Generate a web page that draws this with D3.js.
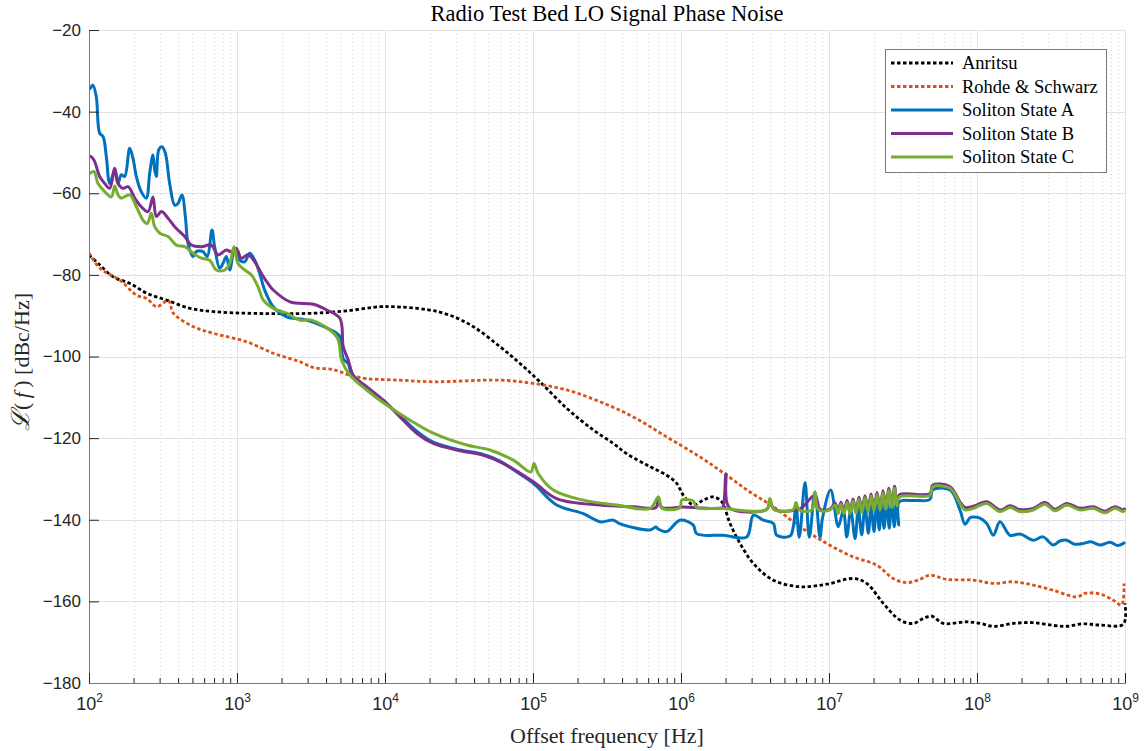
<!DOCTYPE html>
<html><head><meta charset="utf-8">
<script src="https://cdn.jsdelivr.net/npm/d3@7"></script>
<style>body{margin:0;background:#fff}svg{display:block}</style>
</head><body>
<svg id="chart" width="1147" height="751"></svg>
<script>
const titleText = "Radio Test Bed LO Signal Phase Noise";
const xLabelText = "Offset frequency [Hz]";
const yTicks = [-180, -160, -140, -120, -100, -80, -60, -40, -20];
const xTickExponents = [2, 3, 4, 5, 6, 7, 8, 9];
const seriesNames = ["Anritsu", "Rohde & Schwarz", "Soliton State A", "Soliton State B", "Soliton State C"];
const seriesColors = ["#000000", "#D95319", "#0072BD", "#7E2F8E", "#77AC30"];
const seriesDashed = [true, true, false, false, false];

// points: [log10(offset frequency / Hz), phase noise dBc/Hz]
const anritsu = [[2.000,-75.1],[2.074,-77.6],[2.164,-80.5],[2.277,-82.1],[2.390,-84.5],[2.525,-86.2],[2.682,-88.2],[2.840,-89.0],[3.066,-89.4],[3.516,-89.4],[3.741,-88.8],[3.966,-87.8],[4.056,-87.8],[4.282,-88.5],[4.439,-89.9],[4.597,-92.7],[4.777,-97.6],[4.912,-101.7],[5.047,-106.2],[5.228,-112.7],[5.407,-118.0],[5.543,-121.3],[5.633,-123.8],[5.791,-127.0],[5.903,-129.1],[5.971,-131.1],[6.016,-134.0],[6.083,-136.4],[6.151,-135.2],[6.218,-134.4],[6.275,-135.6],[6.331,-140.9],[6.399,-145.8],[6.489,-150.7],[6.624,-154.8],[6.804,-156.4],[6.984,-155.8],[7.164,-154.4],[7.255,-155.6],[7.367,-160.5],[7.480,-164.6],[7.570,-165.4],[7.637,-164.2],[7.694,-163.6],[7.772,-165.4],[7.930,-165.0],[8.020,-165.4],[8.110,-166.1],[8.245,-165.4],[8.380,-165.2],[8.516,-165.9],[8.606,-166.1],[8.718,-165.5],[8.831,-165.8],[8.989,-165.6],[9.000,-160.5]];

const rohdeSchwarz = [[2.000,-74.6],[2.074,-78.4],[2.209,-81.3],[2.322,-85.0],[2.390,-85.8],[2.457,-87.8],[2.536,-86.3],[2.570,-89.4],[2.705,-92.7],[2.840,-94.3],[3.066,-96.4],[3.245,-99.2],[3.358,-100.5],[3.426,-101.3],[3.516,-102.7],[3.651,-103.2],[3.764,-104.6],[3.876,-105.4],[4.101,-105.8],[4.326,-106.2],[4.777,-105.8],[5.002,-106.6],[5.228,-108.2],[5.453,-111.1],[5.678,-114.8],[5.903,-119.7],[6.128,-124.6],[6.309,-129.1],[6.466,-133.2],[6.624,-136.8],[6.804,-141.7],[6.984,-145.8],[7.164,-149.1],[7.322,-151.1],[7.434,-154.4],[7.525,-155.4],[7.601,-154.8],[7.682,-153.6],[7.795,-154.6],[7.975,-154.8],[8.110,-155.6],[8.245,-155.2],[8.380,-156.0],[8.516,-157.3],[8.674,-158.9],[8.736,-158.0],[8.831,-158.2],[8.921,-159.7],[8.977,-160.9],[8.993,-155.6]];

const solitonA = [[2.000,-34.5],[2.007,-34.3],[2.026,-33.5],[2.049,-36.3],[2.072,-45.3],[2.095,-46.1],[2.117,-51.0],[2.140,-57.6],[2.174,-54.3],[2.196,-57.6],[2.218,-55.5],[2.241,-55.9],[2.275,-49.0],[2.297,-51.4],[2.320,-55.9],[2.353,-59.6],[2.387,-61.2],[2.410,-55.1],[2.432,-50.6],[2.444,-54.3],[2.455,-55.9],[2.471,-49.4],[2.493,-48.6],[2.516,-50.2],[2.545,-57.6],[2.579,-62.9],[2.601,-62.5],[2.628,-60.4],[2.651,-65.7],[2.669,-72.3],[2.703,-75.5],[2.725,-74.3],[2.770,-74.3],[2.799,-75.5],[2.831,-69.0],[2.849,-73.1],[2.883,-78.4],[2.905,-77.2],[2.928,-75.5],[2.951,-78.8],[2.984,-73.5],[3.018,-76.4],[3.052,-76.8],[3.086,-74.7],[3.120,-76.4],[3.153,-79.6],[3.187,-83.7],[3.245,-87.8],[3.336,-90.3],[3.471,-91.1],[3.674,-94.3],[3.696,-95.2],[3.718,-100.5],[3.752,-101.8],[3.777,-104.8],[3.876,-107.8],[3.989,-110.9],[4.101,-114.5],[4.214,-118.3],[4.326,-121.0],[4.484,-122.7],[4.664,-124.0],[4.777,-125.6],[4.890,-128.3],[5.002,-131.1],[5.160,-136.4],[5.340,-138.5],[5.453,-140.5],[5.543,-140.1],[5.588,-141.0],[5.791,-142.5],[5.831,-141.8],[5.847,-142.3],[5.903,-142.9],[5.993,-140.1],[6.083,-141.3],[6.106,-143.4],[6.286,-143.8],[6.444,-144.2],[6.489,-138.9],[6.557,-140.1],[6.624,-140.9],[6.647,-143.8],[6.736,-144.0],[6.759,-141.7],[6.777,-136.0],[6.799,-144.3],[6.838,-130.9],[6.867,-144.3],[6.905,-133.2],[6.939,-144.3],[6.957,-139.4],[7.011,-132.7],[7.063,-141.7],[7.097,-137.6],[7.120,-144.2],[7.147,-137.6],[7.176,-144.6],[7.198,-137.2],[7.221,-143.7],[7.243,-136.8],[7.266,-143.3],[7.284,-136.4],[7.304,-142.9],[7.322,-136.0],[7.340,-142.5],[7.356,-135.6],[7.372,-142.1],[7.390,-135.2],[7.407,-142.1],[7.424,-134.8],[7.441,-141.7],[7.457,-134.8],[7.471,-141.3],[7.475,-135.6],[7.580,-135.3],[7.682,-135.0],[7.701,-132.7],[7.818,-132.7],[7.885,-137.6],[7.919,-141.1],[7.953,-139.5],[7.975,-139.3],[8.020,-139.6],[8.066,-140.9],[8.110,-143.8],[8.155,-140.5],[8.223,-143.8],[8.291,-143.5],[8.380,-145.0],[8.446,-144.2],[8.516,-146.2],[8.560,-145.2],[8.606,-145.0],[8.660,-146.0],[8.718,-145.8],[8.770,-145.4],[8.831,-146.2],[8.899,-145.5],[8.950,-146.3],[8.989,-145.8],[9.000,-145.5]];

const solitonB = [[2.000,-51.0],[2.007,-50.9],[2.034,-51.9],[2.072,-55.9],[2.106,-57.6],[2.140,-58.8],[2.174,-53.9],[2.196,-57.6],[2.230,-58.8],[2.264,-58.4],[2.309,-61.2],[2.353,-63.3],[2.399,-64.5],[2.432,-60.9],[2.455,-65.7],[2.489,-64.5],[2.534,-66.1],[2.579,-68.2],[2.647,-70.6],[2.691,-72.7],[2.759,-73.1],[2.826,-72.7],[2.872,-75.1],[2.928,-73.9],[2.961,-74.3],[2.995,-73.5],[3.029,-75.9],[3.074,-75.1],[3.120,-76.8],[3.164,-79.6],[3.209,-82.1],[3.245,-83.7],[3.358,-86.6],[3.516,-87.2],[3.606,-88.6],[3.696,-90.7],[3.718,-97.6],[3.752,-100.9],[3.786,-104.6],[3.876,-107.4],[3.989,-110.7],[4.101,-114.8],[4.214,-118.8],[4.326,-121.3],[4.484,-122.9],[4.664,-124.2],[4.777,-125.8],[5.002,-130.7],[5.160,-134.8],[5.453,-136.4],[5.678,-136.8],[5.831,-137.0],[5.847,-135.0],[5.872,-137.0],[6.005,-136.9],[6.083,-137.0],[6.264,-137.2],[6.282,-137.0],[6.304,-128.7],[6.326,-137.0],[6.580,-137.4],[6.601,-135.2],[6.628,-137.4],[6.799,-137.4],[6.905,-134.0],[6.939,-137.4],[7.007,-137.4],[7.041,-135.9],[7.061,-138.0],[7.081,-135.7],[7.101,-138.0],[7.122,-135.3],[7.142,-138.0],[7.162,-134.9],[7.182,-137.9],[7.203,-134.5],[7.223,-137.7],[7.243,-134.1],[7.264,-137.5],[7.284,-133.7],[7.304,-137.3],[7.324,-133.3],[7.345,-137.1],[7.365,-132.9],[7.385,-136.9],[7.405,-132.3],[7.426,-136.5],[7.443,-131.8],[7.459,-136.1],[7.475,-133.9],[7.682,-133.6],[7.701,-131.5],[7.818,-131.9],[7.885,-135.6],[7.919,-137.0],[7.975,-136.7],[8.066,-135.6],[8.155,-137.6],[8.223,-136.6],[8.291,-137.5],[8.380,-137.2],[8.459,-135.8],[8.527,-137.4],[8.606,-136.0],[8.696,-137.2],[8.786,-136.8],[8.865,-137.9],[8.932,-136.8],[8.989,-137.6],[9.000,-137.1]];

const solitonC = [[2.000,-55.3],[2.007,-55.1],[2.034,-54.7],[2.061,-57.6],[2.106,-59.6],[2.151,-60.9],[2.174,-58.2],[2.196,-60.4],[2.218,-61.2],[2.275,-60.4],[2.320,-63.3],[2.365,-66.6],[2.394,-67.4],[2.421,-64.9],[2.444,-68.2],[2.478,-69.8],[2.534,-70.6],[2.590,-72.7],[2.647,-73.1],[2.703,-74.7],[2.759,-75.9],[2.816,-76.4],[2.860,-78.8],[2.917,-78.8],[2.951,-77.2],[2.980,-73.1],[3.007,-77.2],[3.052,-78.8],[3.097,-80.0],[3.142,-82.9],[3.178,-86.2],[3.245,-88.2],[3.336,-89.4],[3.426,-91.1],[3.505,-91.1],[3.674,-95.2],[3.707,-100.9],[3.764,-104.6],[3.876,-108.2],[4.011,-111.9],[4.169,-115.6],[4.326,-118.8],[4.552,-121.7],[4.709,-122.9],[4.867,-125.4],[4.986,-128.3],[5.007,-126.2],[5.034,-128.6],[5.137,-132.7],[5.340,-135.2],[5.566,-136.4],[5.791,-137.2],[5.847,-134.4],[5.872,-137.2],[5.993,-137.0],[6.005,-135.2],[6.083,-135.4],[6.106,-137.0],[6.264,-137.2],[6.580,-137.5],[6.601,-134.8],[6.628,-137.5],[6.759,-137.5],[6.777,-135.8],[6.799,-137.6],[6.885,-137.6],[6.905,-133.2],[6.929,-137.6],[7.007,-137.6],[7.041,-136.4],[7.061,-138.5],[7.081,-136.2],[7.101,-138.5],[7.122,-135.8],[7.142,-138.5],[7.162,-135.4],[7.182,-138.4],[7.203,-135.0],[7.223,-138.2],[7.243,-134.6],[7.264,-138.0],[7.284,-134.2],[7.304,-137.8],[7.324,-133.8],[7.345,-137.6],[7.365,-133.4],[7.385,-137.4],[7.405,-132.8],[7.426,-137.0],[7.443,-132.3],[7.459,-136.6],[7.475,-134.4],[7.682,-134.0],[7.701,-131.9],[7.818,-132.3],[7.885,-136.0],[7.919,-137.6],[7.975,-137.2],[8.066,-136.0],[8.155,-138.0],[8.223,-137.0],[8.291,-138.0],[8.380,-137.6],[8.459,-136.2],[8.527,-137.8],[8.606,-136.4],[8.696,-137.6],[8.786,-137.2],[8.865,-138.3],[8.932,-137.2],[8.989,-138.0],[9.000,-137.5]];

const seriesData = [anritsu, rohdeSchwarz, solitonA, solitonB, solitonC];

const X0 = 89, X1 = 1125, Y0 = 30, Y1 = 683;
const svg = d3.select("#chart");
const x = d3.scaleLog().domain([1e2, 1e9]).range([X0, X1]);
const y = d3.scaleLinear().domain([-180, -20]).range([Y1, Y0]);
const serif = "'Liberation Serif','Times New Roman',Times,serif";
const sans = "'Liberation Sans',Arial,Helvetica,sans-serif";

const decades = xTickExponents.map(e => Math.pow(10, e));
const minor = [];
xTickExponents.slice(0, -1).forEach(e => { for (let k = 2; k <= 9; k++) minor.push(k * Math.pow(10, e)); });
const px = v => Math.round(v) + 0.5;

// grid
const grid = svg.append("g");
grid.selectAll("line.minor").data(minor).join("line").attr("class","minor")
  .attr("x1", d => px(x(d))).attr("x2", d => px(x(d))).attr("y1", Y0).attr("y2", Y1)
  .attr("stroke", "#cfcfcf").attr("stroke-width", 1).attr("stroke-dasharray", "1,3");
grid.selectAll("line.major").data(decades).join("line").attr("class","major")
  .attr("x1", d => px(x(d))).attr("x2", d => px(x(d))).attr("y1", Y0).attr("y2", Y1)
  .attr("stroke", "#e2e2e2").attr("stroke-width", 1);
grid.selectAll("line.hgrid").data(yTicks).join("line").attr("class","hgrid")
  .attr("x1", X0).attr("x2", X1).attr("y1", d => px(y(d))).attr("y2", d => px(y(d)))
  .attr("stroke", "#e2e2e2").attr("stroke-width", 1);

// series
svg.append("clipPath").attr("id","plotclip").append("rect")
  .attr("x", X0).attr("y", Y0 - 2).attr("width", X1 - X0 + 2).attr("height", Y1 - Y0 + 2);
const line = d3.line().x(d => x(Math.pow(10, d[0]))).y(d => y(d[1])).curve(d3.curveCatmullRom.alpha(0.5));
const lines = svg.append("g").attr("clip-path", "url(#plotclip)");
seriesData.forEach((data, i) => {
  lines.append("path").datum(data).attr("d", line)
    .attr("fill", "none").attr("stroke", seriesColors[i])
    .attr("stroke-width", seriesDashed[i] ? 2.8 : 3)
    .attr("stroke-linejoin", "round")
    .attr("stroke-dasharray", seriesDashed[i] ? "3.5,2.5" : null);
});

// axes
const gy = svg.append("g").attr("transform", `translate(${X0},0)`)
  .call(d3.axisLeft(y).tickValues(yTicks).tickSizeInner(-10).tickSizeOuter(0).tickPadding(8)
    .tickFormat(d => d < 0 ? "\u2212" + Math.abs(d) : String(d)));
gy.select(".domain").attr("stroke", "#7a7a7a");
gy.selectAll(".tick line").attr("stroke", "#262626");
gy.selectAll(".tick text").attr("font-family", sans).attr("font-size", 17).attr("fill", "#262626");

const gxm = svg.append("g").attr("transform", `translate(0,${Y1})`)
  .call(d3.axisBottom(x).tickValues(minor).tickSizeInner(-5).tickSizeOuter(0).tickFormat(""));
gxm.select(".domain").attr("stroke", "#7a7a7a");
gxm.selectAll(".tick line").attr("stroke", "#262626");

const gx = svg.append("g").attr("transform", `translate(0,${Y1})`)
  .call(d3.axisBottom(x).tickValues(decades).tickSizeInner(-10).tickSizeOuter(0).tickFormat(""));
gx.select(".domain").attr("stroke", "#7a7a7a");
gx.selectAll(".tick line").attr("stroke", "#262626");
gx.selectAll(".tick").each(function(d, i) {
  const t = d3.select(this).append("text").attr("y", 27).attr("text-anchor", "middle")
    .attr("font-family", sans).attr("fill", "#262626");
  t.append("tspan").attr("font-size", 18).text("10");
  t.append("tspan").attr("font-size", 12).attr("dy", -8).text(xTickExponents[i]);
});

// labels
svg.append("text").attr("x", (X0 + X1) / 2).attr("y", 21).attr("text-anchor", "middle")
  .attr("font-family", serif).attr("font-size", 22.5).attr("fill", "#000").text(titleText);
svg.append("text").attr("x", (X0 + X1) / 2).attr("y", 743).attr("text-anchor", "middle")
  .attr("font-family", serif).attr("font-size", 22).attr("fill", "#262626").text(xLabelText);
const yl = svg.append("text").attr("transform", `translate(29,362) rotate(-90)`)
  .attr("text-anchor", "middle").attr("font-family", serif).attr("font-size", 22).attr("fill", "#262626");
yl.append("tspan").attr("font-size", 25).attr("font-style", "italic").text("\u2112");
yl.append("tspan").text("(\u2009");
yl.append("tspan").attr("font-style", "italic").text("f");
yl.append("tspan").text("\u2009)");
yl.append("tspan").text(" [dBc/Hz]");

// legend
const lg = svg.append("g");
lg.append("rect").attr("x", 885.5).attr("y", 49.5).attr("width", 221).attr("height", 123)
  .attr("fill", "#fff").attr("stroke", "#7a7a7a").attr("stroke-width", 1);
seriesNames.forEach((name, i) => {
  const cy = 63 + i * 23.5;
  lg.append("line").attr("x1", 891).attr("x2", 953).attr("y1", cy).attr("y2", cy)
    .attr("stroke", seriesColors[i]).attr("stroke-width", seriesDashed[i] ? 2.8 : 3)
    .attr("stroke-dasharray", seriesDashed[i] ? "3.5,2.5" : null);
  lg.append("text").attr("x", 962).attr("y", cy).attr("dy", "0.33em")
    .attr("font-family", serif).attr("font-size", 18.5).attr("fill", "#000").text(name);
});
</script>
</body></html>
